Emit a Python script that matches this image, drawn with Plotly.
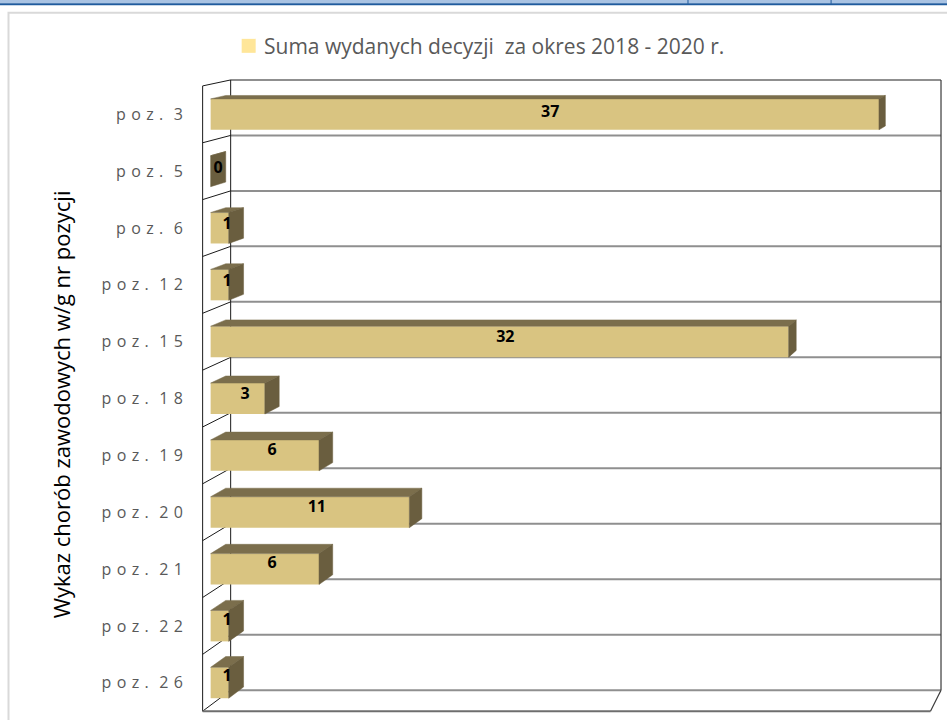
import plotly.graph_objects as go

# ---------------- data ----------------
categories = ["poz. 3", "poz. 5", "poz. 6", "poz. 12", "poz. 15", "poz. 18",
              "poz. 19", "poz. 20", "poz. 21", "poz. 22", "poz. 26"]
values = [37, 0, 1, 1, 32, 3, 6, 11, 6, 1, 1]
series_name = "Suma wydanych decyzji  za okres 2018 - 2020 r."
axis_title = "Wykaz chorób zawodowych w/g nr pozycji"
value_max = 40

# ---------------- geometry / style ----------------
W, H = 947, 720
X0_PX, SX = 211.0, 18.05      # pixel of value 0, pixels per unit
Y0_PX, SY = 114.5, 56.85      # pixel of first category, pixels per category
XR = (-0.7, 40.6)
YR = (-0.78, 10.62)
ml = X0_PX + XR[0] * SX
pw = (XR[1] - XR[0]) * SX
mr = W - ml - pw
mt = Y0_PX + YR[0] * SY
ph = (YR[1] - YR[0]) * SY
mb = H - mt - ph


def dx(px):
    return (px - X0_PX) / SX


def dy(py):
    return (py - Y0_PX) / SY


def pxp(px):
    return (px - ml) / pw


def pyp(py):
    return 1 - (py - mt) / ph


VX, VY = dx(1370), dy(-163)   # vanishing point (data units)
T_BAR = 0.013
T_BOX = 0.024


def back(x, y, t):
    return x + (VX - x) * t, y + (VY - y) * t


FRONT = "#D9C481"
TOP = "#7B6E4C"
SIDE = "#6A5E3F"
HALF = 0.272
n = len(categories)
idx = list(range(n))

shapes = []

# ---- outer decoration (window top band + chart area border) ----
shapes.append(dict(type="rect", xref="paper", yref="paper", x0=pxp(0), x1=pxp(W),
                   y0=pyp(0), y1=pyp(3.5), fillcolor="#A9C3E3", line=dict(width=0), layer="below"))
shapes.append(dict(type="line", xref="paper", yref="paper", x0=pxp(0), x1=pxp(W),
                   y0=pyp(4.5), y1=pyp(4.5), line=dict(color="#1F5B9E", width=2), layer="below"))
for vx in (688, 831):
    shapes.append(dict(type="line", xref="paper", yref="paper", x0=pxp(vx), x1=pxp(vx),
                       y0=pyp(0), y1=pyp(4), line=dict(color="#1F5B9E", width=1), layer="below"))
shapes.append(dict(type="rect", xref="paper", yref="paper", x0=pxp(9), x1=pxp(W + 20),
                   y0=pyp(13), y1=pyp(H + 20), fillcolor="rgba(0,0,0,0)",
                   line=dict(color="#D9D9D9", width=2), layer="below"))

# ---- 3D box (walls + floor) ----
xf0, xf1 = dx(203), 39.85
yf0, yf1 = -0.5, n - 0.5


def seg(p, q, color, width):
    shapes.append(dict(type="line", xref="x", yref="y", x0=p[0], y0=p[1], x1=q[0], y1=q[1],
                       line=dict(color=color, width=width), layer="below"))


for k in range(n + 1):
    yb = -0.5 + k
    bl = back(xf0, yb, T_BOX)
    br = back(xf1, yb, T_BOX)
    seg(bl, br, "#8F8F8F", 2)                 # gridline on back wall
    seg(bl, (xf0, yb), "#1A1A1A", 1)          # slanted line on side wall
seg((xf0, yf0), (xf0, yf1), "#1A1A1A", 1)     # side wall front edge
seg(back(xf0, yf0, T_BOX), back(xf0, yf1, T_BOX), "#1A1A1A", 1)  # side wall back edge
seg(back(xf1, yf0, T_BOX), back(xf1, yf1, T_BOX), "#3A3A3A", 1.2)  # back wall right edge
seg((xf0, yf1), (xf1, yf1), "#6E6E6E", 2)     # floor front edge
seg(back(xf1, yf1, T_BOX), (xf1, yf1), "#3A3A3A", 1.2)  # floor right edge

# ---- bar faces ----
top_x, top_y, side_x, side_y = [], [], [], []
for i, v in zip(idx, values):
    yt, yb_ = i - HALF, i + HALF
    pts = [(0, yt), (v, yt), back(v, yt, T_BAR), back(0, yt, T_BAR)]
    for p in pts + [pts[0]]:
        top_x.append(p[0]); top_y.append(p[1])
    top_x.append(None); top_y.append(None)
    pts = [(v, yt), (v, yb_), back(v, yb_, T_BAR), back(v, yt, T_BAR)]
    for p in pts + [pts[0]]:
        side_x.append(p[0]); side_y.append(p[1])
    side_x.append(None); side_y.append(None)

fig = go.Figure()
fig.add_trace(go.Bar(x=values, y=idx, orientation="h", width=2 * HALF, base=0,
                     marker=dict(color=FRONT, line=dict(width=0)), name=series_name,
                     showlegend=False, hoverinfo="x+y"))
fig.add_trace(go.Scatter(x=top_x, y=top_y, mode="lines", fill="toself", fillcolor=TOP,
                         line=dict(width=0.5, color=TOP), showlegend=False, hoverinfo="skip"))
fig.add_trace(go.Scatter(x=side_x, y=side_y, mode="lines", fill="toself", fillcolor=SIDE,
                         line=dict(width=0.5, color=SIDE), showlegend=False, hoverinfo="skip"))

lab = [back(v / 2, i, T_BAR / 2) for i, v in zip(idx, values)]
fig.add_trace(go.Scatter(x=[p[0] for p in lab], y=[p[1] for p in lab], mode="text",
                         text=[str(v) for v in values],
                         textfont=dict(family="Open Sans", size=16, color="#000000", weight="bold"),
                         textposition="middle center", showlegend=False, hoverinfo="skip"))


def spaced(s):
    name, num = s.split(" ")
    sp = "\u2004"
    return sp.join(list(name)) + sp + sp + sp.join(list(num))


fig.update_layout(
    width=W, height=H,
    margin=dict(l=ml, r=mr, t=mt, b=mb, autoexpand=False),
    paper_bgcolor="white", plot_bgcolor="rgba(0,0,0,0)",
    showlegend=False,
    shapes=shapes,
    xaxis=dict(range=list(XR), showgrid=False, zeroline=False, showticklabels=False,
               showline=False, ticks="", fixedrange=True),
    yaxis=dict(range=[YR[1], YR[0]], tickvals=idx, ticktext=[spaced(c) for c in categories],
               showgrid=False, zeroline=False, showline=False, ticks="",
               ticklabelstandoff=14,
               tickfont=dict(family="Open Sans", size=16, color="#595959"), fixedrange=True),
    annotations=[
        dict(xref="paper", yref="paper", x=pxp(262), y=pyp(46), xanchor="left", yanchor="middle",
             text=series_name, showarrow=False,
             font=dict(family="Open Sans", size=21, color="#595959")),
        dict(xref="paper", yref="paper", x=pxp(61), y=pyp(405), xanchor="center", yanchor="middle",
             text=axis_title, textangle=-90, showarrow=False,
             font=dict(family="Open Sans", size=22, color="#000000")),
    ],
)
fig.add_shape(type="rect", xref="paper", yref="paper", x0=pxp(242), x1=pxp(256),
              y0=pyp(39), y1=pyp(53), fillcolor="#FFE699", line=dict(width=0))

fig.write_html("out.html", config={"displayModeBar": False},
               post_script="document.body.style.margin='0';document.body.style.padding='0';"
                           "document.body.style.overflow='hidden';")
